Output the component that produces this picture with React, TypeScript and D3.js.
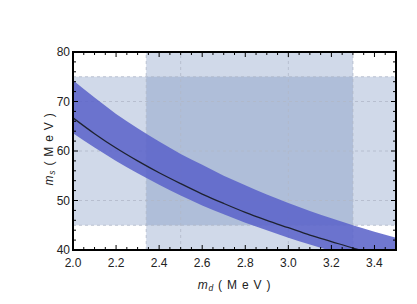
import React from "react";
import * as d3 from "d3";

const mdValues = [2.0, 2.1, 2.2, 2.3, 2.4, 2.5, 2.6, 2.7, 2.8, 2.9, 3.0, 3.1, 3.2, 3.3, 3.4, 3.5];
const msCentral = [66.7, 63.5, 60.6, 58.0, 55.6, 53.4, 51.3, 49.4, 47.6, 46.0, 44.5, 43.0, 41.7, 40.4, 39.2, 38.1];
const msUpper = [74.3, 70.8, 67.5, 64.6, 61.9, 59.4, 57.2, 55.0, 53.1, 51.2, 49.5, 47.9, 46.4, 45.0, 43.7, 42.5];
const msLower = [63.6, 60.7, 58.0, 55.5, 53.2, 51.0, 49.0, 47.2, 45.5, 44.0, 42.5, 41.1, 39.8, 38.6, 37.5, 36.4];

const mdRange = [2.34, 3.3];
const msRange = [45, 75];

const xTicks = [2.0, 2.2, 2.4, 2.6, 2.8, 3.0, 3.2, 3.4];
const yTicks = [40, 50, 60, 70, 80];
const xGrid = [2.5, 3.0];
const yGrid = [50, 60, 70];

const W = 417, H = 304;
const m = { left: 73, right: 21, top: 52, bottom: 54 };

export default function App() {
  const x = d3.scaleLinear().domain([2.0, 3.5]).range([m.left, W - m.right]);
  const y = d3.scaleLinear().domain([40, 80]).range([H - m.bottom, m.top]);
  const [x0, x1] = x.range();
  const [y0, y1] = y.range();

  const band = d3.area<number>()
    .x((_, i) => x(mdValues[i]))
    .y0((_, i) => y(msLower[i]))
    .y1((_, i) => y(msUpper[i]))
    .curve(d3.curveMonotoneX);
  const line = d3.line<number>()
    .x((_, i) => x(mdValues[i]))
    .y((_, i) => y(msCentral[i]))
    .curve(d3.curveMonotoneX);

  const xMinor = d3.range(2.0, 3.5001, 0.05);
  const yMinor = d3.range(40, 80.001, 2);
  const font = "'Liberation Sans', Arial, sans-serif";
  const rectFill = "rgb(98,128,182)";
  const dash = "#b0b8c8";

  return (
    <svg width={W} height={H} style={{ position: "absolute", left: 0, top: 0 }} fontFamily={font}>
      <defs>
        <clipPath id="plot">
          <rect x={x0} y={y1} width={x1 - x0} height={y0 - y1} />
        </clipPath>
      </defs>
      <rect width={W} height={H} fill="white" />
      <g clipPath="url(#plot)">
        <rect x={x0} y={y(msRange[1])} width={x1 - x0} height={y(msRange[0]) - y(msRange[1])}
          fill={rectFill} fillOpacity={0.3} />
        <rect x={x(mdRange[0])} y={y1} width={x(mdRange[1]) - x(mdRange[0])} height={y0 - y1}
          fill={rectFill} fillOpacity={0.3} />
        {xGrid.map(v => (
          <line key={"gx" + v} x1={x(v)} x2={x(v)} y1={y0} y2={y1} stroke={dash} strokeWidth={0.8} strokeDasharray="3,3" />
        ))}
        {yGrid.map(v => (
          <line key={"gy" + v} x1={x0} x2={x1} y1={y(v)} y2={y(v)} stroke={dash} strokeWidth={0.8} strokeDasharray="3,3" />
        ))}
        {msRange.map(v => (
          <line key={"ry" + v} x1={x0} x2={x1} y1={y(v)} y2={y(v)} stroke={dash} strokeWidth={0.8} strokeDasharray="3,3" />
        ))}
        {mdRange.map(v => (
          <line key={"rx" + v} x1={x(v)} x2={x(v)} y1={y0} y2={y1} stroke={dash} strokeWidth={0.8} strokeDasharray="3,3" />
        ))}
        <path d={band(mdValues) || ""} fill="rgb(92,100,202)" fillOpacity={0.88} />
        <path d={line(mdValues) || ""} fill="none" stroke="#1e2230" strokeWidth={1.3} />
      </g>
      {xMinor.map((v, i) => {
        const major = i % 4 === 0;
        const len = major ? 5 : 3;
        return (
          <g key={"xt" + i}>
            <line x1={x(v)} x2={x(v)} y1={y0} y2={y0 - len} stroke="black" strokeWidth={1} />
            <line x1={x(v)} x2={x(v)} y1={y1} y2={y1 + len} stroke="black" strokeWidth={1} />
          </g>
        );
      })}
      {yMinor.map((v, i) => {
        const major = i % 5 === 0;
        const len = major ? 5 : 3;
        return (
          <g key={"yt" + i}>
            <line x1={x0} x2={x0 + len} y1={y(v)} y2={y(v)} stroke="black" strokeWidth={1} />
            <line x1={x1} x2={x1 - len} y1={y(v)} y2={y(v)} stroke="black" strokeWidth={1} />
          </g>
        );
      })}
      <rect x={x0} y={y1} width={x1 - x0} height={y0 - y1} fill="none" stroke="black" strokeWidth={2} />
      {xTicks.map(v => (
        <text key={"xl" + v} x={x(v)} y={y0 + 17} textAnchor="middle" fontSize={12} fill="#222">
          {d3.format(".1f")(v)}
        </text>
      ))}
      {yTicks.map(v => (
        <text key={"yl" + v} x={x0 - 3} y={y(v) + 4} textAnchor="end" fontSize={12} fill="#222">
          {v}
        </text>
      ))}
      <text x={(x0 + x1) / 2} y={H - 15} textAnchor="middle" fontSize={12} fill="#222" letterSpacing={0.8}>
        <tspan fontStyle="italic">m</tspan>
        <tspan fontSize={8.5} fontStyle="italic" dy={2}>d</tspan>
        <tspan dy={-2}> ( M e V )</tspan>
      </text>
      <text transform={`translate(53,${(y0 + y1) / 2 - 2}) rotate(-90)`} textAnchor="middle" fontSize={12} fill="#222" letterSpacing={0.8}>
        <tspan fontStyle="italic">m</tspan>
        <tspan fontSize={8.5} fontStyle="italic" dy={2}>s</tspan>
        <tspan dy={-2}> ( M e V )</tspan>
      </text>
    </svg>
  );
}
